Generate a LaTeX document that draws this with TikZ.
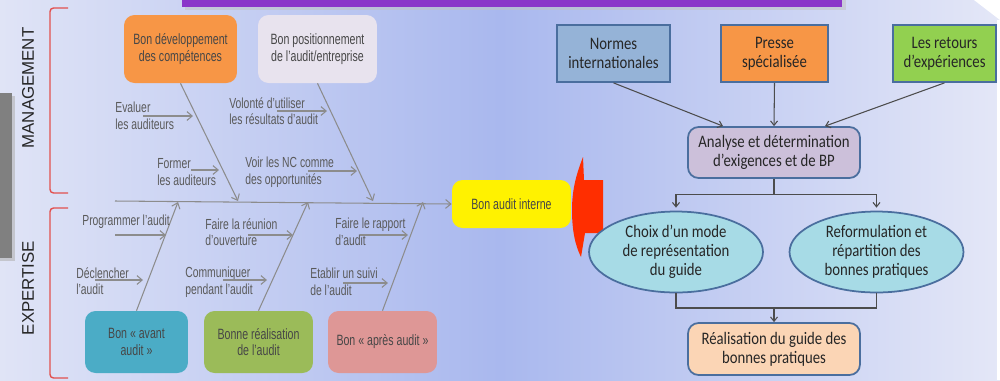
\documentclass[tikz,border=0pt]{standalone}
\usepackage{fontspec}
\setmainfont{Liberation Sans}
\newfontfamily\narrowfont[FakeStretch=0.71]{Liberation Sans}
\newfontfamily\calfont[FakeStretch=0.84]{Carlito}
\usetikzlibrary{arrows.meta,shapes.geometric,positioning}

\definecolor{bgleft}{HTML}{E0E4F6}
\definecolor{bgmid}{HTML}{A9B8EE}
\definecolor{bgright}{HTML}{E4E7F7}
\definecolor{barpurple}{HTML}{8A36C9}
\definecolor{bracered}{HTML}{E2504F}
\definecolor{bonegray}{HTML}{8C8C8C}
\definecolor{txtgray}{HTML}{474747}
\definecolor{orangebox}{HTML}{F79646}
\definecolor{lilacbox}{HTML}{E8E3EE}
\definecolor{tealbox}{HTML}{4BACC6}
\definecolor{greenbox}{HTML}{9BBB59}
\definecolor{pinkbox}{HTML}{DE9796}
\definecolor{bluebox}{HTML}{95B3D7}
\definecolor{limebox}{HTML}{92D050}
\definecolor{mauvebox}{HTML}{CCC0DA}
\definecolor{cyanoval}{HTML}{A7DBE6}
\definecolor{peachbox}{HTML}{FBD5B5}
\definecolor{frameblue}{HTML}{4A6E9E}
\definecolor{redmark}{HTML}{FF2E00}

\begin{document}
\begin{tikzpicture}[x=0.02cm, y=-0.02cm,
    cat/.style={rounded corners=6pt, align=center, inner sep=0pt,
        font=\narrowfont\fontsize{8.5}{9.6}\selectfont, text=txtgray},
    sub/.style={anchor=north west, align=left, inner sep=0pt,
        font=\narrowfont\fontsize{8.3}{9.6}\selectfont, text=txtgray!90},
    bone/.style={draw=bonegray, line width=0.6pt, -{Straight Barb[length=3pt,width=5pt]}},
    brace/.style={draw=bracered, line width=0.8pt, rounded corners=2pt},
    src/.style={draw=frameblue, line width=1pt, align=center, inner sep=0pt,
        font=\calfont\fontsize{10}{10.8}\selectfont, text=black!85},
    oval/.style={ellipse, draw=frameblue, line width=1pt, fill=cyanoval, align=center, inner sep=0pt,
        minimum width=3.48cm, minimum height=1.62cm, font=\calfont\fontsize{10}{10.8}\selectfont, text=black!85},
    link/.style={draw=black!70, line width=0.6pt, -{Straight Barb[length=2.5pt,width=4pt]}},
    side/.style={rotate=90, font=\fontsize{9.6}{10}\selectfont, text=black!85}]
    \useasboundingbox (0,0) rectangle (1000,380);
    % background
    \shade[left color=bgleft, right color=bgright, middle color=bgmid] (0,0) rectangle (1000,380);
    \fill[white] (974,0) -- (1000,0) -- (1000,20) -- cycle;
    \fill[white] (997,20) rectangle (1000,380);
    \fill[black!25, opacity=0.5] (185,0) rectangle (846,10);
    \fill[barpurple] (182,-2) rectangle (842,7);
    \fill[black!30, opacity=0.6] (0,96) rectangle (15,261);
    \fill[gray] (0,93) rectangle (12,258);

    % side labels
    \node[side] (mgmt) at (28,88) {MANAGEMENT};
    \node[side] (expt) at (28,288) {EXPERTISE};
    \draw[brace] (68,8) -- (50,8) -- (50,193) -- (68,193);
    \draw[brace] (68,208) -- (50,208) -- (50,378) -- (68,378);

    % fishbone
    \node[cat, fill=orangebox, minimum width=2.26cm, minimum height=1.36cm] (dev) at (180.5,49) {Bon développement\\des compétences};
    \node[cat, fill=lilacbox, minimum width=2.38cm, minimum height=1.36cm] (pos) at (317.5,49) {Bon positionnement\\de l’audit/entreprise};
    \node[cat, fill=tealbox, minimum width=2.06cm, minimum height=1.24cm] (avant) at (136.5,342) {Bon «~avant\\audit~»};
    \node[cat, fill=greenbox, minimum width=2.18cm, minimum height=1.24cm] (reali) at (258.5,342) {Bonne réalisation\\de l’audit};
    \node[cat, fill=pinkbox, minimum width=2.18cm, minimum height=1.24cm] (apres) at (382.5,342) {Bon «~après audit~»};
    \node[cat, fill=yellow, minimum width=2.38cm, minimum height=0.96cm] (bon) at (511.5,204) {Bon audit interne};

    \coordinate (sp) at (115,201);
    \coordinate (b1) at (238,201); \coordinate (b2) at (373,201);
    \coordinate (b3) at (178,202); \coordinate (b4) at (308,202);
    \coordinate (b5) at (423,202);
    \draw[bone] (sp) -- (bon.west);
    \draw[bone] (dev.south) -- (b1);
    \draw[bone] (pos.south) -- (b2);
    \draw[bone] (avant.north) -- (b3);
    \draw[bone] (reali.north) -- (b4);
    \draw[bone] (apres.north) -- (b5);

    \node[sub] (eval) at (115,102) {Evaluer\\les auditeurs};
    \node[sub] (form) at (157,158) {Former\\les auditeurs};
    \node[sub] (volo) at (229,97) {Volonté d’utiliser\\les résultats d’audit};
    \node[sub] (voir) at (245,157) {Voir les NC comme\\des opportunités};
    \node[sub] (prog) at (82,215) {Programmer l’audit};
    \node[sub] (decl) at (76,267) {Déclencher\\l’audit};
    \node[sub] (reun) at (205,218) {Faire la réunion\\d’ouverture};
    \node[sub] (comm) at (185,267) {Communiquer\\pendant l’audit};
    \node[sub] (rapp) at (335,218) {Faire le rapport\\d’audit};
    \node[sub] (suiv) at (310,268) {Etablir un suivi\\de l’audit};

    \coordinate (e1) at (143,116); \coordinate (e2) at (193,116);
    \coordinate (f1) at (191,170); \coordinate (f2) at (219,170);
    \coordinate (v1) at (277,111); \coordinate (v2) at (327,111);
    \coordinate (n1) at (308,171); \coordinate (n2) at (357,171);
    \coordinate (p1) at (115,235); \coordinate (p2) at (166,235);
    \coordinate (d1) at (95,280); \coordinate (d2) at (143,280);
    \coordinate (r1) at (248,235); \coordinate (r2) at (293,235);
    \coordinate (c1) at (223,280); \coordinate (c2) at (267,280);
    \coordinate (a1) at (360,235); \coordinate (a2) at (408,235);
    \coordinate (s1) at (343,283); \coordinate (s2) at (388,283);
    \foreach \u/\v in {e1/e2,f1/f2,v1/v2,n1/n2,p1/p2,d1/d2,r1/r2,c1/c2,a1/a2,s1/s2}
        \draw[bone] (\u) -- (\v);

    % red marker
    \fill[redmark] (603,180) -- (584,180) -- (583,157) .. controls (576,175) and (572,190) .. (572,210)
        .. controls (572,230) and (575,245) .. (581,257) -- (585,233) -- (603,233) -- cycle;

    % guide flow
    \node[src, fill=bluebox, minimum width=2.26cm, minimum height=1.14cm] (normes) at (613.5,53.5) {Normes\\internationales};
    \node[src, fill=orangebox, minimum width=2.14cm, minimum height=1.14cm] (presse) at (774.5,53.5) {Presse\\spécialisée};
    \node[src, fill=limebox, minimum width=2.06cm, minimum height=1.14cm] (retours) at (944.5,53.5) {Les retours\\d’expériences};
    \node[src, fill=mauvebox, rounded corners=6pt, minimum width=3.44cm, minimum height=1.02cm] (ana) at (774,152.5) {Analyse et détermination\\d’exigences et de BP};
    \node[oval] (choix) at (676,252) {Choix d’un mode\\de représentation\\du guide};
    \node[oval] (reform) at (876.5,252) {Reformulation et\\répartition des\\bonnes pratiques};
    \node[src, fill=peachbox, rounded corners=6pt, minimum width=3.44cm, minimum height=1.04cm] (real) at (774,349) {Réalisation du guide des\\bonnes pratiques};

    \draw[link] (normes.south) -- ([xshift=-1.02cm]ana.north);
    \draw[link] (presse.south) -- (ana.north);
    \draw[link] (retours.south) -- ([xshift=1.02cm]ana.north);
    \draw[link] (ana.south) -- ++(0,16) -| ([yshift=0.06cm]choix.north);
    \draw[link] (ana.south) -- ++(0,16) -| ([yshift=0.06cm]reform.north);
    \coordinate (join) at (774,308);
    \draw[draw=black!70, line width=0.6pt] (choix.south) |- (join) -| (reform.south);
    \draw[link] (join) -- (real.north);
\end{tikzpicture}
\end{document}
